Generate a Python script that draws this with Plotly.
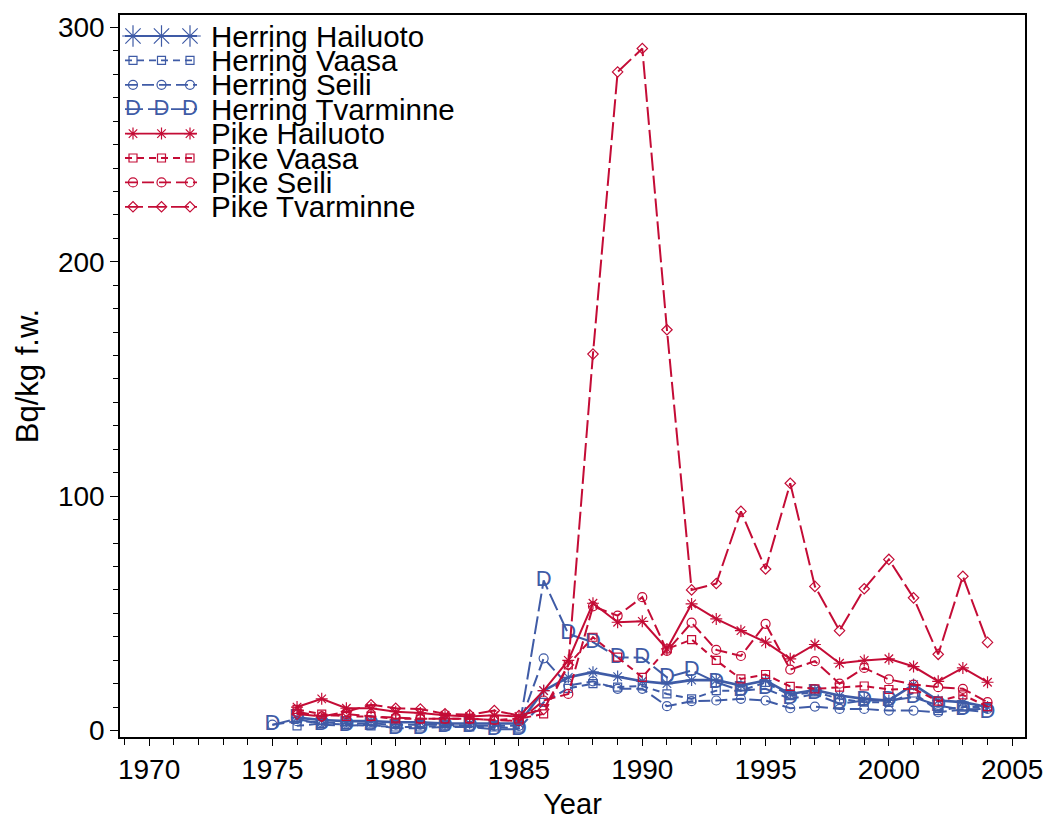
import plotly.graph_objects as go

# Caesium concentrations in Baltic fish, Bq/kg fresh weight
years = list(range(1975, 2005))

herring_hailuoto = [None, 5.5, 4.5, 4, 4, 3.5, 3.5, 3, 3, 3, 3, 17, 22.7, 24.9, 23, 21, 20, 21.5, 21.5, 19.2,
                    21.3, 15.6, 17.3, 14.9, 13.5, 12.8, 19.6, 12.8, 12.1, 10]
herring_vaasa = [None, 2, 3, 2.5, 2, 1.5, 1.5, 2, 1.5, 1.5, 1, 12, 18, 20, 18.5, 19, 15.6, 13.5, 17, 17,
                 20.5, 14.9, 16.5, 13.5, 12.1, 12, 16, 8.5, 10, 10]
herring_seili = [2.5, 4, 3.5, 3, 3, 2.5, 2.5, 2.5, 2, 2, 2, 30.8, 19.2, 21, 17.8, 17.8, 10.4, 12.5, 12.8, 13.5,
                 12.8, 9.5, 10.2, 9.2, 9.2, 8.5, 8.5, 7.8, 9, 9.2]
herring_tvarminne = [2.4, 5, 2.5, 2, 2.5, 1, 1, 1.5, 1.5, 0.5, 0.5, 64, 41.2, 37.7, 31.3, 31, 22.7, 25.6, 20.6, 17,
                     17.8, 13.5, 15.6, 11.4, 12.8, 12.8, 14.2, 10.7, 8.8, 7.8]
pike_hailuoto = [None, 10, 13.5, 9.5, 9.5, 8, 7.5, 6.5, 6, 6.5, 6, 17, 29.9, 54.3, 46.2, 46.6, 34.8, 54, 47.6, 42.6,
                 37.7, 30.6, 36.7, 28.7, 29.9, 30.6, 27.3, 21, 26.7, 20.6]
pike_vaasa = [None, 9, 7, 6, 6, 5, 5, 5, 5, 4.5, 5, 7.1, 28, 39.8, 31.3, 22.7, 34.8, 38.8, 29.9, 22,
              23.9, 18.8, 17.8, 18.5, 19, 17.5, 17.8, 12.5, 15.2, 10.2]
pike_seili = [None, 8, 6, 7, 6, 5.5, 5, 5, 5, 4.5, 4, 12.8, 15.6, 53, 49, 56.9, 34, 46, 34.4, 31.8,
              45.5, 26, 29.6, 20, 26.7, 21.8, 19.6, 18.5, 17.8, 12.1]
pike_tvarminne = [None, 7, 6, 8, 11, 9.5, 9.2, 7.1, 6.7, 8.5, 6.4, 9, 28, 160.6, 281, 291, 171, 60, 62.7, 93.5,
                  68.9, 105.5, 61.5, 42.6, 60.5, 73, 56.6, 32.5, 65.8, 37.6]

x_ticks = [1970, 1975, 1980, 1985, 1990, 1995, 2000, 2005]
y_ticks = [0, 100, 200, 300]

BLUE = "#3F5BA6"
RED = "#C40C36"
FONT = "Liberation Sans, Arial, sans-serif"

DASH = {"Hailuoto": "solid", "Vaasa": "7px,5px", "Seili": "12px,5px", "Tvarminne": "18px,5px"}
SYMBOL = {"Hailuoto": "asterisk-open", "Vaasa": "square-open", "Seili": "circle-open", "Tvarminne": "diamond-open"}
SIZE = {"Hailuoto": 10, "Vaasa": 8, "Seili": 9, "Tvarminne": 8}

series = [
    ("Herring", "Hailuoto", herring_hailuoto, BLUE),
    ("Herring", "Vaasa", herring_vaasa, BLUE),
    ("Herring", "Seili", herring_seili, BLUE),
    ("Herring", "Tvarminne", herring_tvarminne, BLUE),
    ("Pike", "Hailuoto", pike_hailuoto, RED),
    ("Pike", "Vaasa", pike_vaasa, RED),
    ("Pike", "Seili", pike_seili, RED),
    ("Pike", "Tvarminne", pike_tvarminne, RED),
]

# plot area in page pixels
PL, PR, PT, PB = 120, 1025, 15, 737
W, H = 1046, 820

fig = go.Figure()


def line_width(fish, site):
    return 2.6 if (fish == "Herring" and site == "Hailuoto") else 2.0


def add_series(fish, site, xs, ys, color, xaxis="x", yaxis="y", marker_x=None, marker_y=None,
               msize=None, lw=None):
    lw = lw or line_width(fish, site)
    is_d = fish == "Herring" and site == "Tvarminne"
    mx = xs if marker_x is None else marker_x
    my = ys if marker_y is None else marker_y
    fig.add_trace(go.Scatter(
        x=xs, y=ys, mode="lines", xaxis=xaxis, yaxis=yaxis,
        line=dict(color=color, width=lw, dash=DASH[site]),
        showlegend=False, hoverinfo="skip"))
    if is_d:
        fig.add_trace(go.Scatter(
            x=mx, y=my, mode="text", text=["D"] * len(mx), xaxis=xaxis, yaxis=yaxis,
            textposition="middle center",
            textfont=dict(family=FONT, size=22, color=color),
            showlegend=False, hoverinfo="skip"))
    else:
        fig.add_trace(go.Scatter(
            x=mx, y=my, mode="markers", xaxis=xaxis, yaxis=yaxis,
            marker=dict(symbol=SYMBOL[site], size=msize or SIZE[site], color=color,
                        line=dict(color=color, width=1.2)),
            showlegend=False, hoverinfo="skip"))


for fish, site, vals, color in series:
    add_series(fish, site, years, vals, color)

# legend drawn on an overlay axis whose units are page pixels
LEG_Y0, LEG_DY = 36, 24.4
LEG_LINE = [125, 197]
LEG_MARKS = [133, 161.5, 190]
LEG_TEXT_X = 209
annotations = []
for i, (fish, site, vals, color) in enumerate(series):
    yy = LEG_Y0 + i * LEG_DY
    big = 18 if (fish == "Herring" and site == "Hailuoto") else None
    add_series(fish, site, LEG_LINE, [yy, yy], color, xaxis="x2", yaxis="y2",
               marker_x=LEG_MARKS, marker_y=[yy] * len(LEG_MARKS), msize=big, lw=1.8)
    annotations.append(dict(
        x=LEG_TEXT_X, y=yy, xref="x2", yref="y2", text=f"{fish} {site}",
        showarrow=False, xanchor="left", yanchor="middle",
        font=dict(family=FONT, size=29.5, color="black")))

axis_common = dict(
    showgrid=False, zeroline=False, showline=True, linecolor="black", linewidth=1.5,
    mirror=True, ticks="outside", tickcolor="black", tickwidth=1.3, automargin=False,
    tickfont=dict(family=FONT, size=28, color="black"),
)

fig.update_layout(
    width=W, height=H,
    margin=dict(l=PL, r=W - PR, t=PT, b=H - PB, pad=0),
    paper_bgcolor="white", plot_bgcolor="white",
    font=dict(family=FONT, color="black"),
    showlegend=False,
    annotations=annotations,
    xaxis=dict(
        range=[1968.82, 2005.52], tickvals=x_ticks, ticklen=7,
        minor=dict(dtick=1, tick0=1970, ticks="outside", ticklen=6, tickcolor="black", tickwidth=1.2),
        title=dict(text="Year", font=dict(family=FONT, size=29, color="black"), standoff=12),
        **axis_common),
    yaxis=dict(
        range=[-2.77, 305.3], tickvals=y_ticks, ticklen=8,
        minor=dict(dtick=10, tick0=0, ticks="outside", ticklen=5, tickcolor="black", tickwidth=1.2),
        title=dict(text="Bq/kg f.w.", font=dict(family=FONT, size=31, color="black"), standoff=10),
        **axis_common),
    xaxis2=dict(overlaying="x", anchor="y2", range=[PL, PR], visible=False, fixedrange=True),
    yaxis2=dict(overlaying="y", anchor="x2", range=[PB, PT], visible=False, fixedrange=True),
)

fig.write_html("out.html")
